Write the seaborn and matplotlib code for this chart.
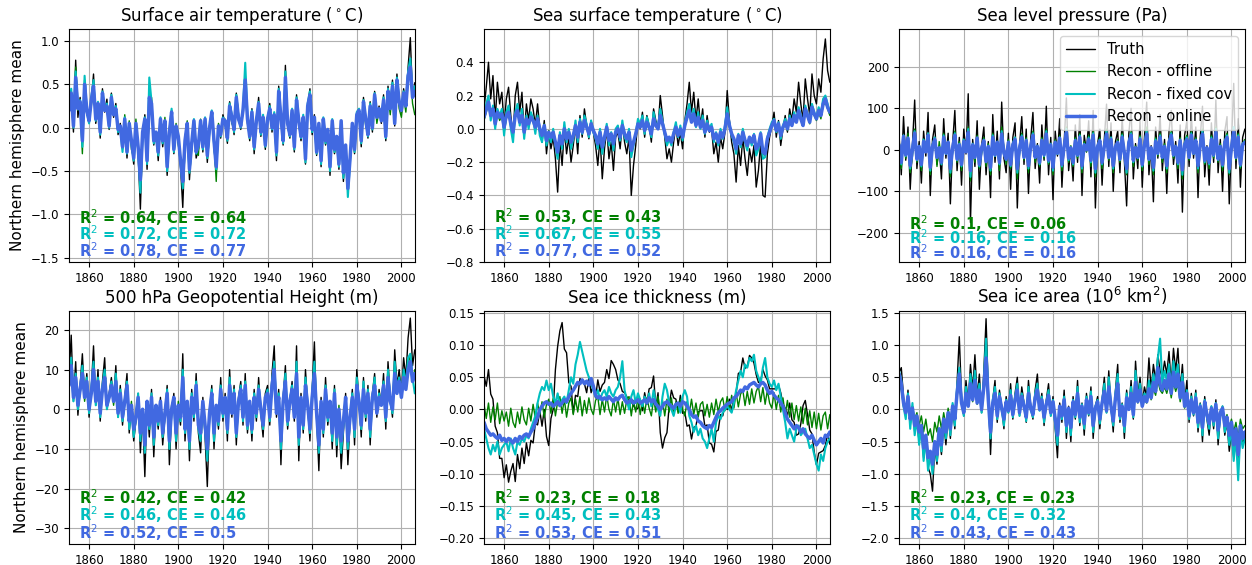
import matplotlib
matplotlib.use("Agg")
import matplotlib.pyplot as plt
import seaborn as sns

# Annual Northern-hemisphere means, 1851-2006
years = list(range(1851, 2007))

series_names = ["Truth", "Recon - offline", "Recon - fixed cov", "Recon - online"]
series_colors = ["black", "green", "c", "royalblue"]
series_widths = [1.0, 1.0, 1.5, 2.5]

# ---- Surface air temperature (deg C) ----
sat_truth = [
    0.15, 0.42, -0.05, 0.78, 0.12, 0.35, -0.18, 0.55, 0.22, 0.08,
    0.30, 0.62, 0.05, 0.25, -0.12, 0.45, 0.18, 0.33, -0.02, 0.40,
    0.12, 0.28, -0.08, 0.05, -0.25, 0.10, -0.35, 0.02, -0.15, -0.42,
    0.05, -0.30, -0.94, -0.12, 0.15, -0.48, 0.22, 0.35, -0.20, -0.05,
    -0.38, 0.10, -0.22, 0.05, -0.55, -0.10, 0.20, -0.30, -0.02, -0.15,
    -0.45, -0.92, -0.20, 0.02, -0.60, -0.18, 0.08, -0.35, -0.25, 0.05,
    -0.28, 0.10, -0.40, -0.05, 0.18, -0.22, -0.52, 0.00, -0.12, 0.15,
    0.05, -0.18, 0.30, 0.12, -0.08, 0.40, 0.15, -0.02, 0.25, 0.62,
    0.10, -0.15, 0.22, -0.30, 0.05, 0.35, -0.10, 0.12, -0.25, 0.08,
    0.28, -0.05, 0.15, -0.38, 0.48, 0.10, -0.20, 0.72, 0.02, -0.12,
    0.20, -0.28, 0.38, 0.05, -0.15, 0.12, -0.42, 0.25, 0.45, -0.08,
    0.15, -0.32, 0.02, -0.45, 0.10, -0.20, -0.05, -0.55, 0.08, -0.30,
    -0.15, -0.48, 0.05, -0.62, -0.25, -0.72, -0.40, 0.02, -0.30, 0.15,
    0.20, -0.22, 0.35, 0.08, -0.12, 0.30, -0.05, 0.42, 0.12, 0.25,
    0.05, 0.38, -0.15, 0.48, 0.22, 0.55, 0.02, 0.62, 0.30, 0.18,
    0.45, 0.25, 0.70, 1.04, 0.35, 0.52,
]
sat_offline = [
    0.22, 0.35, 0.05, 0.70, 0.20, 0.28, -0.30, 0.48, 0.15, 0.12,
    0.25, 0.50, 0.10, 0.18, -0.05, 0.38, 0.25, 0.20, 0.05, 0.30,
    0.18, 0.20, 0.02, -0.05, -0.18, 0.15, -0.22, 0.08, -0.25, -0.35,
    0.10, -0.22, -0.55, -0.05, 0.08, -0.35, 0.15, 0.28, -0.15, -0.12,
    -0.30, 0.05, -0.15, 0.12, -0.42, -0.02, 0.15, -0.22, 0.05, -0.20,
    -0.35, -0.55, -0.12, 0.08, -0.40, -0.25, 0.02, -0.28, -0.32, 0.10,
    -0.20, 0.05, -0.32, 0.02, 0.12, -0.15, -0.62, 0.05, -0.05, 0.08,
    0.10, -0.12, 0.22, 0.05, -0.02, 0.32, 0.08, 0.05, 0.18, 0.45,
    0.05, -0.10, 0.15, -0.22, 0.10, 0.28, -0.05, 0.05, -0.18, 0.12,
    0.20, 0.02, 0.10, -0.28, 0.38, 0.15, -0.12, 0.50, 0.08, -0.05,
    0.15, -0.20, 0.30, 0.10, -0.10, 0.05, -0.35, 0.18, 0.35, -0.02,
    0.10, -0.25, 0.05, -0.35, 0.05, -0.12, -0.10, -0.42, 0.02, -0.22,
    -0.10, -0.38, 0.08, -0.50, -0.20, -0.58, -0.32, 0.05, -0.22, 0.10,
    0.15, -0.15, 0.28, 0.02, -0.05, 0.22, 0.02, 0.32, 0.05, 0.20,
    0.10, 0.30, -0.08, 0.38, 0.15, 0.45, 0.08, 0.50, 0.22, 0.12,
    0.35, 0.18, 0.55, 0.65, 0.28, 0.15,
]
sat_fixed = [
    0.18, 0.45, 0.00, 0.65, 0.25, 0.32, -0.22, 0.60, 0.18, 0.05,
    0.35, 0.55, 0.08, 0.30, -0.08, 0.42, 0.22, 0.28, 0.00, 0.38,
    0.15, 0.25, -0.05, 0.00, -0.28, 0.12, -0.30, 0.05, -0.18, -0.38,
    0.02, -0.25, -0.75, -0.08, 0.12, -0.42, 0.58, 0.30, -0.18, -0.08,
    -0.32, 0.12, -0.18, 0.08, -0.50, -0.05, 0.22, -0.28, 0.00, -0.12,
    -0.40, -0.70, -0.18, 0.05, -0.52, -0.20, 0.10, -0.30, -0.22, 0.08,
    -0.25, 0.12, -0.35, -0.02, 0.20, -0.18, -0.48, 0.02, -0.10, 0.12,
    0.08, -0.15, 0.28, 0.15, -0.05, 0.38, 0.12, 0.00, 0.22, 0.75,
    0.12, -0.12, 0.20, -0.25, 0.08, 0.30, -0.08, 0.15, -0.22, 0.10,
    0.25, -0.02, 0.18, -0.32, 0.45, 0.12, -0.18, 0.65, 0.05, -0.10,
    0.22, -0.25, 0.35, 0.08, -0.12, 0.15, -0.40, 0.28, 0.42, -0.05,
    0.12, -0.30, 0.05, -0.42, 0.12, -0.18, -0.02, -0.50, 0.10, -0.28,
    -0.12, -0.45, 0.08, -0.58, -0.22, -0.80, -0.38, 0.05, -0.28, 0.18,
    0.22, -0.18, 0.32, 0.10, -0.10, 0.28, -0.02, 0.40, 0.15, 0.22,
    0.08, 0.35, -0.12, 0.45, 0.25, 0.52, 0.05, 0.58, 0.32, 0.20,
    0.42, 0.28, 0.65, 0.80, 0.38, 0.48,
]
sat_online = [
    0.20, 0.40, 0.02, 0.58, 0.22, 0.30, -0.15, 0.50, 0.20, 0.08,
    0.32, 0.48, 0.10, 0.28, -0.05, 0.40, 0.20, 0.25, 0.02, 0.35,
    0.15, 0.22, -0.02, 0.02, -0.22, 0.10, -0.28, 0.05, -0.15, -0.35,
    0.05, -0.22, -0.60, -0.05, 0.10, -0.38, 0.35, 0.28, -0.15, -0.05,
    -0.28, 0.10, -0.15, 0.08, -0.45, -0.05, 0.18, -0.25, 0.02, -0.10,
    -0.38, -0.62, -0.15, 0.05, -0.48, -0.18, 0.08, -0.28, -0.20, 0.08,
    -0.22, 0.10, -0.32, 0.00, 0.18, -0.15, -0.45, 0.02, -0.08, 0.10,
    0.08, -0.12, 0.25, 0.12, -0.02, 0.35, 0.10, 0.02, 0.20, 0.55,
    0.10, -0.10, 0.18, -0.22, 0.08, 0.28, -0.05, 0.12, -0.20, 0.10,
    0.22, 0.00, 0.15, -0.28, 0.42, 0.12, -0.15, 0.58, 0.05, -0.08,
    0.20, -0.22, 0.32, 0.08, -0.10, 0.12, -0.36, 0.25, 0.38, -0.02,
    0.12, -0.28, 0.05, -0.38, 0.10, -0.15, -0.02, -0.45, 0.08, -0.25,
    -0.10, -0.42, 0.08, -0.52, -0.20, -0.70, -0.35, 0.05, -0.25, 0.15,
    0.20, -0.15, 0.30, 0.10, -0.08, 0.25, 0.00, 0.38, 0.12, 0.22,
    0.08, 0.32, -0.10, 0.42, 0.22, 0.48, 0.05, 0.55, 0.30, 0.20,
    0.40, 0.25, 0.60, 0.70, 0.35, 0.42,
]

# ---- Sea surface temperature (deg C) ----
sst_truth = [
    0.12, 0.25, 0.40, 0.18, 0.32, 0.05, 0.28, 0.15, 0.22, 0.02,
    0.18, 0.25, 0.08, -0.05, 0.20, 0.28, 0.10, 0.22, -0.04, 0.15,
    0.05, 0.18, 0.12, 0.02, 0.15, 0.00, -0.08, 0.05, -0.15, -0.02,
    -0.12, -0.05, -0.18, -0.38, -0.08, -0.22, 0.00, -0.15, -0.05, -0.20,
    -0.10, 0.02, -0.15, 0.08, -0.05, 0.12, 0.02, -0.06, 0.05, -0.02,
    -0.10, -0.22, -0.05, -0.30, -0.12, 0.00, -0.18, -0.08, -0.25, -0.05,
    -0.02, -0.12, 0.03, -0.08, -0.15, -0.05, -0.40, -0.22, -0.10, 0.05,
    0.00, 0.10, -0.05, 0.08, 0.02, -0.08, 0.12, 0.05, 0.00, 0.20,
    0.08, -0.05, -0.18, -0.12, -0.20, -0.08, 0.02, -0.10, -0.02, -0.12,
    0.05, 0.15, 0.28, 0.10, 0.22, 0.05, 0.18, 0.02, 0.12, -0.05,
    0.08, -0.02, 0.00, -0.15, -0.08, -0.20, -0.05, -0.12, -0.02, 0.23,
    0.05, -0.08, -0.15, -0.32, -0.10, -0.22, -0.05, -0.18, -0.28, -0.12,
    -0.20, -0.10, -0.35, -0.25, -0.08, -0.40, -0.41, -0.15, -0.05, 0.02,
    0.10, -0.05, 0.05, -0.10, 0.00, 0.08, -0.02, 0.12, 0.05, 0.18,
    0.10, 0.28, 0.15, 0.05, 0.30, 0.18, 0.08, 0.33, 0.20, 0.15,
    0.30, 0.22, 0.42, 0.54, 0.35, 0.28,
]
sst_offline = [
    0.05, 0.10, 0.15, 0.08, 0.12, 0.02, 0.10, 0.05, 0.08, -0.02,
    0.06, 0.10, 0.02, -0.04, 0.08, 0.12, 0.04, 0.09, -0.03, 0.06,
    0.02, 0.08, 0.05, 0.00, 0.06, -0.02, -0.05, 0.03, -0.08, -0.01,
    -0.06, -0.02, -0.08, -0.15, -0.03, -0.10, 0.01, -0.06, -0.02, -0.09,
    -0.05, 0.02, -0.06, 0.04, -0.02, 0.06, 0.01, -0.03, 0.03, 0.00,
    -0.04, -0.09, -0.02, -0.12, -0.05, 0.01, -0.07, -0.03, -0.10, -0.02,
    0.00, -0.05, 0.02, -0.04, -0.06, -0.02, -0.14, -0.09, -0.04, 0.03,
    0.01, 0.05, -0.02, 0.04, 0.01, -0.03, 0.06, 0.02, 0.00, 0.08,
    0.03, -0.02, -0.07, -0.05, -0.08, -0.03, 0.01, -0.04, -0.01, -0.05,
    0.02, 0.06, 0.11, 0.04, 0.09, 0.02, 0.07, 0.01, 0.05, -0.02,
    0.03, -0.01, 0.01, -0.06, -0.03, -0.08, -0.02, -0.05, -0.01, 0.09,
    0.02, -0.03, -0.06, -0.12, -0.04, -0.09, -0.02, -0.07, -0.11, -0.05,
    -0.08, -0.04, -0.13, -0.10, -0.03, -0.15, -0.16, -0.06, -0.02, 0.01,
    0.04, -0.02, 0.02, -0.04, 0.00, 0.03, -0.01, 0.05, 0.02, 0.07,
    0.04, 0.10, 0.06, 0.02, 0.11, 0.07, 0.03, 0.12, 0.08, 0.05,
    0.10, 0.06, 0.14, 0.16, 0.12, 0.08,
]
sst_fixed = [
    0.08, 0.15, 0.20, 0.05, 0.14, 0.00, 0.12, 0.08, 0.12, -0.04,
    0.10, 0.14, 0.00, -0.08, 0.10, 0.15, 0.02, 0.12, -0.06, 0.08,
    0.00, 0.10, 0.06, -0.03, 0.08, -0.04, -0.08, 0.02, -0.10, -0.03,
    -0.08, 0.00, -0.10, -0.18, -0.02, -0.12, 0.04, -0.08, 0.00, -0.12,
    -0.06, 0.05, -0.08, 0.06, -0.03, 0.08, 0.03, -0.05, 0.05, -0.02,
    -0.06, -0.12, 0.00, -0.15, -0.06, 0.03, -0.10, -0.02, -0.13, 0.00,
    0.02, -0.07, 0.05, -0.05, -0.08, 0.00, -0.17, -0.10, -0.03, 0.06,
    0.03, 0.08, -0.03, 0.07, 0.02, -0.05, 0.10, 0.03, 0.01, 0.12,
    0.05, -0.03, -0.10, -0.06, -0.10, -0.02, 0.04, -0.05, 0.02, -0.07,
    0.04, 0.10, 0.15, 0.05, 0.12, 0.01, 0.10, 0.00, 0.08, -0.03,
    0.05, 0.00, 0.03, -0.08, -0.02, -0.10, 0.00, -0.06, 0.02, 0.13,
    0.03, -0.04, -0.08, -0.15, -0.03, -0.11, 0.00, -0.08, -0.13, -0.05,
    -0.10, -0.03, -0.16, -0.12, -0.02, -0.18, -0.17, -0.05, 0.00, 0.04,
    0.06, -0.02, 0.04, -0.06, 0.02, 0.06, 0.00, 0.08, 0.03, 0.10,
    0.05, 0.13, 0.08, 0.02, 0.14, 0.09, 0.04, 0.15, 0.10, 0.07,
    0.13, 0.09, 0.18, 0.20, 0.15, 0.10,
]
sst_online = [
    0.07, 0.12, 0.16, 0.08, 0.12, 0.03, 0.10, 0.07, 0.09, 0.01,
    0.08, 0.10, 0.03, -0.02, 0.08, 0.11, 0.04, 0.08, -0.02, 0.06,
    0.03, 0.07, 0.05, 0.01, 0.06, 0.00, -0.04, 0.02, -0.07, -0.02,
    -0.05, -0.02, -0.08, -0.14, -0.04, -0.09, 0.00, -0.06, -0.02, -0.08,
    -0.04, 0.02, -0.05, 0.04, -0.02, 0.05, 0.01, -0.03, 0.03, -0.01,
    -0.04, -0.09, -0.02, -0.11, -0.05, 0.01, -0.07, -0.03, -0.09, -0.02,
    0.00, -0.05, 0.02, -0.03, -0.06, -0.02, -0.13, -0.08, -0.03, 0.03,
    0.01, 0.05, -0.01, 0.04, 0.01, -0.03, 0.06, 0.02, 0.00, 0.08,
    0.03, -0.02, -0.07, -0.05, -0.08, -0.03, 0.01, -0.04, 0.00, -0.05,
    0.02, 0.07, 0.11, 0.04, 0.09, 0.02, 0.07, 0.01, 0.05, -0.02,
    0.03, -0.01, 0.01, -0.06, -0.03, -0.08, -0.02, -0.05, 0.00, 0.09,
    0.02, -0.03, -0.06, -0.12, -0.04, -0.09, -0.02, -0.07, -0.10, -0.05,
    -0.08, -0.04, -0.12, -0.10, -0.03, -0.14, -0.15, -0.06, -0.02, 0.02,
    0.05, -0.01, 0.03, -0.04, 0.01, 0.04, 0.00, 0.06, 0.02, 0.08,
    0.04, 0.11, 0.06, 0.02, 0.12, 0.08, 0.04, 0.13, 0.09, 0.06,
    0.11, 0.08, 0.15, 0.18, 0.13, 0.10,
]

# ---- Sea level pressure (Pa) ----
slp_truth = [
    35, -60, 80, -25, 55, -95, 10, 120, -45, 20,
    -80, 45, -15, 90, -110, 25, 60, -35, 5, -70,
    75, -20, 40, -130, 15, 95, -50, 30, -85, 50,
    -10, 135, -175, 25, -40, 70, -95, 10, 55, -60,
    20, -115, 85, -30, 45, -70, 115, -20, -55, 40,
    -95, 30, 65, -140, 10, 80, -35, 50, -105, 25,
    90, -45, 15, -80, 60, -25, 105, -60, 30, -120,
    45, -15, 75, -90, 20, 125, -50, 5, -75, 60,
    -30, 85, -110, 35, -5, 70, -65, 95, -140, 15,
    50, -85, 25, 110, -40, 65, -100, 20, 45, -55,
    80, -25, -135, 40, 100, -70, 15, -45, 70, -90,
    30, 115, -60, 10, -125, 55, -20, 85, -50, 25,
    -105, 45, 95, -35, 20, -80, 60, -150, 35, 70,
    -40, 90, -20, 55, -115, 30, 105, -65, 10, -85,
    65, -30, 120, -55, 25, -100, 45, 80, -130, 15,
    160, -45, 75, -90, 30, 50,
]
slp_offline = [
    10, -45, 30, -20, 40, -55, -15, 50, -30, 5,
    -50, 20, 10, 35, -60, 15, 30, -40, 20, -25,
    40, -10, 15, -65, -5, 45, -30, 20, -50, 25,
    5, 55, -75, 10, -30, 35, -45, -10, 30, -40,
    15, -60, 40, -15, 20, -50, 55, 5, -35, 25,
    -45, 20, 30, -70, -10, 40, -25, 30, -55, 10,
    45, -30, 10, -40, 30, -20, 50, -35, 15, -60,
    25, -10, 35, -50, 5, 55, -30, 10, -40, 30,
    -20, 40, -55, 20, -5, 35, -40, 45, -65, 10,
    30, -45, 15, 50, -25, 30, -55, 5, 25, -30,
    40, -15, -60, 20, 45, -40, 10, -25, 35, -50,
    15, 55, -35, 5, -60, 30, -15, 40, -30, 15,
    -55, 25, 45, -20, 10, -45, 30, -70, 20, 35,
    -25, 45, -10, 30, -55, 15, 50, -35, 5, -45,
    35, -20, 55, -30, 15, -50, 25, 40, -60, 10,
    50, -25, 40, -45, 15, 25,
]
slp_fixed = [
    15, -35, 35, -15, 30, -45, 5, 45, -25, 10,
    -40, 25, -5, 40, -50, 10, 30, -20, 5, -35,
    35, -10, 20, -55, 5, 40, -25, 15, -40, 25,
    -5, 50, -65, 15, -20, 30, -40, 5, 25, -30,
    10, -50, 35, -15, 20, -35, 45, -10, -25, 20,
    -40, 15, 30, -55, 5, 35, -20, 25, -45, 10,
    40, -20, 10, -35, 25, -15, 45, -30, 15, -50,
    20, -10, 30, -40, 10, 50, -25, 5, -35, 25,
    -15, 35, -45, 15, 0, 30, -30, 40, -55, 10,
    25, -35, 10, 45, -20, 30, -45, 10, 20, -25,
    35, -10, -55, 20, 40, -30, 5, -20, 30, -40,
    15, 45, -25, 5, -50, 25, -10, 35, -20, 10,
    -45, 20, 40, -15, 10, -35, 25, -60, 15, 30,
    -20, 40, -10, 25, -45, 15, 45, -30, 5, -35,
    30, -15, 50, -25, 10, -40, 20, 35, -55, 5,
    55, -20, 35, -40, 15, 20,
]
slp_online = [
    12, -30, 32, -12, 28, -38, 2, 40, -22, 8,
    -35, 20, -5, 35, -42, 8, 25, -18, 5, -30,
    30, -8, 18, -45, 5, 35, -22, 12, -35, 20,
    -5, 42, -50, 12, -18, 28, -35, 5, 22, -28,
    8, -42, 30, -12, 18, -30, 38, -8, -22, 18,
    -35, 12, 25, -45, 5, 30, -18, 22, -38, 8,
    35, -18, 8, -30, 22, -12, 38, -25, 12, -42,
    18, -8, 28, -35, 8, 42, -20, 5, -30, 22,
    -12, 30, -38, 12, 0, 25, -25, 35, -45, 8,
    22, -30, 8, 38, -18, 25, -38, 8, 18, -22,
    30, -8, -45, 18, 35, -25, 5, -18, 25, -35,
    12, 38, -22, 5, -42, 20, -8, 30, -18, 8,
    -38, 18, 35, -12, 8, -30, 22, -48, 12, 25,
    -18, 35, -8, 22, -38, 12, 38, -25, 5, -30,
    25, -12, 42, -22, 8, -35, 18, 30, -45, 5,
    45, -18, 30, -35, 12, 18,
]

# ---- 500 hPa geopotential height (m) ----
gph_truth = [
    8, 18.7, 2, 12, -1.5, 6, 14, 3, 9, -2,
    5, 16, 1, 10, -3, 7, 13, 0, 4, 8,
    2, 11, -2, 6, -4, 3, 9, -6, 1, -8,
    -3, 4, -11, -1, -17, 2, -7, 5, -12, 0,
    -5, 3, -9, -2, 6, -14, -1, 4, -10, 1,
    -4, 14, -8, 2, -13, 5, -3, 9, -6, -11,
    3, -7, -19.5, -2, 6, -10, 1, -5, 8, -3,
    4, -8, 10, -2, 6, -9, 3, 7, -4, 9,
    -6, 2, -8, 5, -3, 8, -1, -7, 4, 6,
    -4, 9, 16, -2, 5, -14, 3, 11, -5, 2,
    7, -3, 16, -13, 4, -6, 10, 1, -8, 5,
    17, -2, -15.5, 3, -7, 8, -4, 2, -10, 6,
    -12, 0, -15, -6, 4, -14, -3, 5, -9, 10,
    2, -7, 8, -3, 6, -9, 4, 9, -2, 5,
    1, 9, -5, 12, 3, -2, 15, 6, 10, 4,
    13, 8, 18, 23, 11, 15,
]
gph_offline = [
    6, 10, 3, 8, 1, 4, 9, 2, 7, 0,
    4, 9, 2, 7, -1, 5, 8, 1, 3, 6,
    1, 7, -1, 4, -2, 2, 6, -3, 2, -5,
    -1, 3, -6, 0, -9, 2, -4, 3, -7, 1,
    -3, 2, -5, 0, 4, -8, 1, 3, -6, 2,
    -2, 8, -5, 2, -8, 3, -1, 6, -4, -6,
    2, -4, -10, 0, 4, -6, 1, -3, 5, -1,
    3, -5, 6, -1, 4, -5, 2, 5, -2, 6,
    -4, 2, -5, 3, -1, 5, 0, -4, 3, 4,
    -2, 6, 9, 0, 3, -8, 2, 7, -3, 1,
    5, -2, 9, -7, 3, -4, 6, 1, -5, 3,
    9, -1, -9, 2, -4, 5, -2, 1, -6, 4,
    -7, 1, -9, -3, 3, -8, -2, 3, -5, 6,
    2, -4, 5, -1, 4, -5, 3, 6, -1, 3,
    1, 6, -2, 8, 2, 0, 9, 4, 7, 3,
    8, 5, 11, 14, 7, 10,
]
gph_fixed = [
    7, 13, 2, 9, 0, 5, 11, 3, 8, -1,
    5, 12, 1, 8, -2, 6, 10, 0, 3, 7,
    2, 9, -2, 5, -3, 2, 7, -5, 1, -7,
    -2, 4, -8, 0, -11, 2, -5, 4, -9, 1,
    -4, 2, -7, -1, 5, -10, 0, 3, -8, 1,
    -3, 10, -6, 2, -10, 4, -2, 7, -5, -8,
    2, -5, -13, -1, 5, -8, 1, -4, 6, -2,
    3, -6, 8, -1, 5, -7, 2, 6, -3, 7,
    -5, 2, -6, 4, -2, 6, 0, -5, 3, 5,
    -3, 7, 12, -1, 4, -10, 2, 9, -4, 2,
    6, -2, 12, -9, 3, -5, 8, 1, -6, 4,
    12, -1, -11, 2, -6, 6, -3, 2, -8, 5,
    -9, 0, -11, -4, 3, -10, -2, 4, -7, 8,
    2, -5, 7, -2, 5, -7, 3, 8, -1, 4,
    1, 7, -3, 10, 2, -1, 12, 5, 8, 3,
    10, 6, 13, 14, 8, 4,
]
gph_online = [
    6, 11, 3, 8, 1, 5, 9, 3, 7, 0,
    4, 10, 2, 7, -1, 5, 8, 1, 3, 6,
    2, 7, -1, 4, -2, 2, 6, -3, 1, -5,
    -2, 3, -6, 0, -9, 2, -4, 3, -7, 1,
    -3, 2, -6, -1, 4, -8, 0, 3, -6, 1,
    -2, 8, -5, 2, -8, 3, -1, 6, -4, -6,
    2, -4, -10, -1, 4, -6, 1, -3, 5, -1,
    3, -5, 6, -1, 4, -6, 2, 5, -2, 6,
    -4, 2, -5, 3, -1, 5, 0, -4, 3, 4,
    -2, 6, 10, -1, 3, -8, 2, 7, -3, 2,
    5, -2, 9, -7, 3, -4, 6, 1, -5, 3,
    9, -1, -9, 2, -5, 5, -2, 2, -6, 4,
    -7, 0, -8, -3, 3, -8, -2, 3, -5, 6,
    2, -4, 5, -1, 4, -5, 3, 6, -1, 3,
    1, 6, -2, 8, 2, 0, 9, 4, 7, 3,
    8, 5, 10, 12, 7, 9,
]

# ---- Sea ice thickness (m) ----
sit_truth = [
    0.053, 0.036, 0.062, 0.024, 0.016, -0.026, -0.036, -0.076, -0.076, -0.106,
    -0.086, -0.113, -0.096, -0.084, -0.112, -0.070, -0.092, -0.060, -0.084, -0.052,
    -0.072, -0.048, -0.052, -0.022, -0.024, -0.002, -0.026, 0.000, -0.042, -0.056,
    -0.014, 0.000, 0.062, 0.098, 0.122, 0.135, 0.094, 0.088, 0.042, 0.036,
    -0.006, 0.022, 0.020, 0.048, 0.044, 0.040, 0.026, 0.050, 0.026, 0.038,
    0.018, 0.046, 0.028, 0.038, 0.042, 0.062, 0.048, 0.076, 0.070, 0.062,
    0.046, 0.040, 0.028, 0.026, 0.020, 0.012, 0.012, 0.006, 0.000, 0.002,
    0.016, -0.002, 0.026, 0.008, 0.032, 0.034, 0.052, 0.004, 0.026, -0.036,
    -0.060, -0.044, -0.036, 0.006, 0.030, 0.018, 0.016, -0.002, 0.022, -0.006,
    -0.004, -0.026, -0.024, -0.046, -0.028, -0.026, -0.004, -0.002, -0.002, -0.026,
    -0.024, -0.052, -0.054, -0.066, -0.034, -0.032, -0.008, -0.010, 0.006, 0.000,
    0.016, -0.002, 0.016, 0.024, 0.056, 0.058, 0.080, 0.064, 0.066, 0.084,
    0.080, 0.072, 0.054, 0.042, 0.044, 0.062, 0.052, 0.046, 0.032, 0.032,
    0.032, 0.032, 0.038, 0.026, 0.008, 0.002, -0.010, 0.010, -0.016, -0.020,
    -0.040, -0.038, -0.022, 0.006, 0.014, -0.008, -0.032, -0.038, -0.066, -0.086,
    -0.068, -0.066, -0.064, -0.056, -0.038, -0.054,
]
sit_offline = [
    0.008, -0.014, 0.010, -0.020, 0.004, -0.016, 0.010, -0.022, -0.002, -0.018,
    -0.004, -0.026, 0.002, -0.020, -0.028, -0.004, -0.022, 0.004, -0.016, -0.024,
    0.002, -0.018, 0.008, -0.014, 0.010, -0.008, 0.012, -0.012, 0.008, 0.016,
    -0.006, 0.018, -0.010, 0.012, 0.020, -0.006, 0.016, -0.012, 0.010, 0.018,
    -0.008, 0.016, -0.004, 0.020, -0.010, 0.014, -0.006, 0.018, 0.000, -0.008,
    0.014, 0.020, -0.008, 0.016, -0.004, 0.022, 0.000, -0.010, 0.016, -0.004,
    0.018, -0.008, 0.012, -0.006, 0.016, 0.020, -0.010, 0.014, -0.004, 0.018,
    -0.008, 0.014, -0.006, 0.018, 0.002, -0.010, 0.016, -0.004, 0.020, -0.006,
    0.014, -0.010, 0.016, -0.004, 0.018, -0.008, 0.012, -0.006, 0.016, 0.000,
    -0.010, 0.012, -0.006, 0.016, -0.008, 0.010, -0.012, 0.008, 0.012, -0.010,
    0.008, -0.012, 0.010, -0.008, 0.016, -0.004, 0.012, 0.018, -0.002, 0.020,
    0.000, 0.022, 0.002, 0.026, 0.004, 0.024, 0.030, 0.006, 0.028, 0.008,
    0.032, 0.010, 0.028, 0.036, 0.012, 0.034, 0.008, 0.030, 0.010, 0.002,
    0.026, 0.000, 0.022, -0.004, 0.018, -0.008, 0.014, -0.012, 0.010, -0.016,
    0.006, -0.018, 0.004, -0.022, 0.002, -0.024, -0.002, -0.028, -0.004, -0.030,
    -0.006, -0.032, -0.010, -0.004, -0.030, -0.008,
]
sit_fixed = [
    -0.030, -0.045, -0.060, -0.070, -0.055, -0.065, -0.050, -0.070, -0.060, -0.055,
    -0.050, -0.065, -0.045, -0.060, -0.070, -0.050, -0.055, -0.045, -0.050, -0.040,
    -0.045, -0.030, -0.020, -0.010, 0.010, 0.025, 0.035, 0.030, 0.045, 0.030,
    0.040, 0.020, 0.010, 0.025, 0.005, 0.015, 0.020, 0.010, 0.030, 0.050,
    0.040, 0.070, 0.085, 0.105, 0.090, 0.075, 0.060, 0.050, 0.040, 0.030,
    0.020, 0.030, 0.015, 0.025, 0.030, 0.020, 0.035, 0.025, 0.020, 0.030,
    0.035, 0.050, 0.075, 0.030, 0.015, 0.000, 0.020, 0.030, 0.010, 0.025,
    0.015, 0.005, 0.020, 0.010, 0.025, 0.005, 0.030, 0.010, 0.000, -0.010,
    0.020, 0.040, 0.030, 0.010, 0.000, -0.010, 0.005, 0.010, -0.005, 0.020,
    0.030, 0.020, -0.010, -0.020, -0.035, -0.025, -0.040, -0.030, -0.045, -0.050,
    -0.060, -0.045, -0.030, -0.050, -0.020, -0.010, -0.015, -0.005, 0.000, 0.005,
    0.000, -0.005, 0.010, 0.030, 0.045, 0.060, 0.050, 0.070, 0.065, 0.080,
    0.075, 0.085, 0.060, 0.050, 0.040, 0.065, 0.080, 0.050, 0.040, 0.035,
    0.045, 0.030, 0.040, 0.020, 0.000, -0.020, -0.045, -0.030, -0.040, -0.050,
    -0.030, -0.025, -0.040, -0.035, -0.030, -0.045, -0.060, -0.055, -0.070, -0.085,
    -0.095, -0.070, -0.080, -0.060, -0.050, -0.045,
]
sit_online = [
    -0.020, -0.030, -0.035, -0.040, -0.038, -0.042, -0.045, -0.040, -0.048, -0.045,
    -0.050, -0.045, -0.048, -0.052, -0.045, -0.050, -0.042, -0.045, -0.040, -0.038,
    -0.042, -0.035, -0.030, -0.020, -0.012, 0.000, 0.005, 0.010, 0.012, 0.008,
    0.010, 0.005, 0.008, 0.012, 0.006, 0.010, 0.015, 0.012, 0.020, 0.025,
    0.030, 0.036, 0.042, 0.040, 0.046, 0.040, 0.044, 0.038, 0.048, 0.036,
    0.022, 0.018, 0.020, 0.015, 0.018, 0.015, 0.020, 0.016, 0.012, 0.018,
    0.015, 0.020, 0.022, 0.015, 0.010, 0.012, 0.015, 0.010, 0.012, 0.015,
    0.010, 0.012, 0.015, 0.010, 0.018, 0.012, 0.015, 0.008, 0.005, 0.000,
    0.005, 0.010, 0.012, 0.008, 0.005, 0.002, 0.008, 0.010, 0.005, 0.012,
    0.010, 0.005, 0.000, -0.008, -0.012, -0.010, -0.018, -0.020, -0.025, -0.028,
    -0.030, -0.025, -0.028, -0.020, -0.012, -0.005, -0.002, 0.002, 0.005, 0.008,
    0.010, 0.012, 0.018, 0.020, 0.025, 0.030, 0.028, 0.035, 0.032, 0.038,
    0.040, 0.042, 0.038, 0.035, 0.040, 0.042, 0.038, 0.030, 0.025, 0.028,
    0.022, 0.018, 0.015, 0.010, 0.005, -0.005, -0.015, -0.020, -0.025, -0.030,
    -0.025, -0.028, -0.035, -0.030, -0.038, -0.042, -0.045, -0.040, -0.048, -0.055,
    -0.050, -0.045, -0.052, -0.040, -0.042, -0.035,
]

# ---- Sea ice area (10^6 km^2) ----
sia_truth = [
    0.57, 0.65, 0.20, -0.10, 0.30, -0.25, 0.05, -0.35, -0.20, -0.50,
    -0.30, -0.75, -0.45, -0.90, -1.00, -1.27, -0.60, -0.85, -0.40, -0.70,
    -0.20, -0.55, -0.10, -0.45, 0.05, -0.30, 0.40, 1.13, 0.20, -0.10,
    0.45, 0.10, 0.70, 0.30, 0.85, 0.20, 0.55, -0.05, 0.60, 1.41,
    0.30, -0.70, 0.15, 0.45, -0.20, 0.30, 0.05, -0.30, 0.20, -0.05,
    0.40, -0.15, 0.25, 0.50, -0.10, 0.35, 0.10, -0.20, 0.45, 0.05,
    -0.15, 0.30, 0.55, 0.00, 0.25, -0.25, 0.15, 0.40, -0.10, 0.20,
    -0.30, -0.75, 0.10, -0.20, 0.30, -0.45, 0.05, -0.50, 0.20, -0.15,
    0.45, -0.25, 0.10, -0.40, 0.25, -0.10, 0.35, -0.45, 0.05, 0.20,
    -0.30, 0.15, 0.50, -0.05, 0.60, 0.05, -0.35, 0.30, 0.70, -0.20,
    0.10, -0.45, 0.30, 0.00, 0.45, -0.15, 0.75, 0.20, 0.50, 0.10,
    0.35, 0.20, 0.80, 0.30, 0.70, 0.45, 0.85, 0.60, 0.50, 0.75,
    0.55, 0.90, 0.40, 0.95, 0.60, 0.95, 0.30, 0.70, 0.10, 0.45,
    -0.20, 0.25, -0.10, 0.30, -0.35, 0.10, -0.50, 0.20, -0.15, -0.40,
    0.05, -0.30, 0.15, -0.55, -0.10, 0.05, -0.40, -0.20, -0.65, -0.35,
    -0.75, -0.45, -0.90, -0.30, -0.55, -0.40,
]
sia_offline = [
    0.40, 0.30, 0.05, -0.05, 0.15, -0.10, 0.05, -0.15, -0.05, -0.25,
    -0.10, -0.35, -0.15, -0.40, -0.30, -0.50, -0.20, -0.35, -0.10, -0.30,
    -0.05, -0.25, 0.02, -0.20, 0.08, -0.10, 0.20, 0.45, 0.10, 0.00,
    0.20, 0.05, 0.30, 0.12, 0.35, 0.08, 0.22, 0.02, 0.28, 0.55,
    0.10, -0.25, 0.08, 0.20, -0.05, 0.15, 0.02, -0.10, 0.10, 0.00,
    0.18, -0.05, 0.12, 0.22, -0.02, 0.15, 0.05, -0.08, 0.20, 0.02,
    -0.05, 0.15, 0.25, 0.02, 0.12, -0.10, 0.08, 0.18, -0.02, 0.10,
    -0.10, -0.30, 0.05, -0.08, 0.12, -0.18, 0.02, -0.20, 0.10, -0.05,
    0.20, -0.10, 0.05, -0.15, 0.12, -0.02, 0.15, -0.18, 0.02, 0.10,
    -0.12, 0.08, 0.22, 0.00, 0.28, 0.05, -0.12, 0.15, 0.30, -0.08,
    0.05, -0.18, 0.15, 0.02, 0.20, -0.05, 0.35, 0.10, 0.25, 0.05,
    0.15, 0.10, 0.28, 0.15, 0.32, 0.22, 0.45, 0.30, 0.25, 0.35,
    0.25, 0.40, 0.18, 0.42, 0.28, 0.40, 0.12, 0.30, 0.02, 0.18,
    -0.05, 0.12, -0.02, 0.15, -0.12, 0.05, -0.18, 0.10, -0.05, -0.15,
    0.02, -0.12, 0.05, -0.22, -0.02, 0.02, -0.18, -0.08, -0.28, -0.15,
    -0.35, -0.20, -0.45, -0.15, -0.30, -0.25,
]
sia_fixed = [
    0.60, 0.45, 0.05, -0.15, 0.25, -0.30, 0.10, -0.40, -0.15, -0.55,
    -0.25, -0.80, -0.45, -0.95, -0.70, -1.00, -0.55, -0.80, -0.35, -0.65,
    -0.20, -0.45, -0.05, -0.40, 0.10, -0.25, 0.35, 0.65, 0.15, -0.10,
    0.35, 0.05, 0.55, 0.20, 0.60, 0.15, 0.40, -0.05, 0.45, 1.10,
    0.20, -0.45, 0.15, 0.35, -0.15, 0.25, 0.00, -0.25, 0.15, -0.05,
    0.30, -0.12, 0.20, 0.40, -0.10, 0.25, 0.08, -0.18, 0.35, 0.00,
    -0.12, 0.25, 0.40, -0.02, 0.20, -0.20, 0.10, 0.30, -0.10, 0.15,
    -0.25, -0.55, 0.05, -0.15, 0.20, -0.35, 0.00, -0.40, 0.15, -0.12,
    0.35, -0.20, 0.08, -0.30, 0.20, -0.08, 0.28, -0.35, 0.05, 0.15,
    -0.22, 0.12, 0.40, -0.05, 0.50, 0.05, -0.25, 0.25, 0.55, -0.15,
    0.08, -0.35, 0.25, 0.00, 0.35, -0.12, 0.60, 0.15, 0.40, 0.08,
    0.25, 0.15, 0.45, 0.25, 0.55, 0.35, 0.80, 1.10, 0.40, 0.60,
    0.45, 0.70, 0.30, 0.75, 0.45, 0.70, 0.20, 0.55, 0.05, 0.30,
    -0.15, 0.20, -0.08, 0.25, -0.28, 0.08, -0.40, 0.15, -0.12, -0.30,
    0.05, -0.25, 0.10, -0.45, -0.08, 0.05, -0.35, -0.15, -0.55, -0.30,
    -0.80, -0.40, -1.10, -0.35, -0.60, -0.45,
]
sia_online = [
    0.55, 0.40, 0.10, -0.05, 0.20, -0.15, 0.02, -0.25, -0.10, -0.35,
    -0.25, -0.60, -0.40, -0.75, -0.65, -0.85, -0.50, -0.70, -0.30, -0.55,
    -0.15, -0.35, -0.05, -0.30, 0.05, -0.15, 0.25, 0.55, 0.10, -0.05,
    0.25, 0.05, 0.40, 0.15, 0.45, 0.10, 0.30, 0.00, 0.35, 0.80,
    0.15, -0.35, 0.10, 0.25, -0.10, 0.20, 0.02, -0.15, 0.12, -0.02,
    0.22, -0.08, 0.15, 0.30, -0.05, 0.20, 0.05, -0.12, 0.25, 0.02,
    -0.08, 0.18, 0.30, 0.00, 0.15, -0.12, 0.08, 0.22, -0.05, 0.12,
    -0.15, -0.40, 0.05, -0.10, 0.15, -0.25, 0.02, -0.28, 0.12, -0.08,
    0.25, -0.12, 0.05, -0.22, 0.15, -0.05, 0.20, -0.25, 0.02, 0.12,
    -0.15, 0.10, 0.28, -0.02, 0.35, 0.05, -0.18, 0.18, 0.40, -0.10,
    0.05, -0.25, 0.18, 0.00, 0.25, -0.08, 0.42, 0.12, 0.30, 0.05,
    0.20, 0.12, 0.32, 0.18, 0.42, 0.28, 0.65, 0.38, 0.30, 0.45,
    0.32, 0.55, 0.25, 0.58, 0.35, 0.55, 0.18, 0.42, 0.05, 0.25,
    -0.10, 0.15, -0.05, 0.18, -0.20, 0.05, -0.28, 0.12, -0.08, -0.22,
    0.02, -0.18, 0.08, -0.32, -0.05, 0.02, -0.25, -0.12, -0.40, -0.20,
    -0.55, -0.30, -0.70, -0.25, -0.45, -0.35,
]

# Verification scores per variable: (R^2, CE) for offline, fixed cov, online
stats_sat = [(0.64, 0.64), (0.72, 0.72), (0.78, 0.77)]
stats_sst = [(0.53, 0.43), (0.67, 0.55), (0.77, 0.52)]
stats_slp = [(0.1, 0.06), (0.16, 0.16), (0.16, 0.16)]
stats_gph = [(0.42, 0.42), (0.46, 0.46), (0.52, 0.5)]
stats_sit = [(0.23, 0.18), (0.45, 0.43), (0.53, 0.51)]
stats_sia = [(0.23, 0.23), (0.4, 0.32), (0.43, 0.43)]

titles = [
    "Surface air temperature ($^\\circ$C)",
    "Sea surface temperature ($^\\circ$C)",
    "Sea level pressure (Pa)",
    "500 hPa Geopotential Height (m)",
    "Sea ice thickness (m)",
    "Sea ice area (10$^6$ km$^2$)",
]
x_ticks = [1860, 1880, 1900, 1920, 1940, 1960, 1980, 2000]

sns.set_style("ticks", {"axes.grid": True, "grid.color": "#b0b0b0",
                        "axes.edgecolor": "black", "text.color": "black",
                        "axes.labelcolor": "black", "xtick.color": "black",
                        "ytick.color": "black"})
plt.rcParams["font.family"] = ["DejaVu Sans"]
plt.rcParams["grid.linewidth"] = 0.8

panels = [
    dict(data=(sat_truth, sat_offline, sat_fixed, sat_online), stats=stats_sat,
         ylim=(-1.55, 1.14), yticks=[-1.5, -1.0, -0.5, 0.0, 0.5, 1.0],
         stat_y=(0.189, 0.120, 0.047)),
    dict(data=(sst_truth, sst_offline, sst_fixed, sst_online), stats=stats_sst,
         ylim=(-0.80, 0.60), yticks=[-0.8, -0.6, -0.4, -0.2, 0.0, 0.2, 0.4],
         stat_y=(0.193, 0.120, 0.047)),
    dict(data=(slp_truth, slp_offline, slp_fixed, slp_online), stats=stats_slp,
         ylim=(-270, 291), yticks=[-200, -100, 0, 100, 200],
         stat_y=(0.163, 0.103, 0.039)),
    dict(data=(gph_truth, gph_offline, gph_fixed, gph_online), stats=stats_gph,
         ylim=(-34, 24.8), yticks=[-30, -20, -10, 0, 10, 20],
         stat_y=(0.197, 0.124, 0.047)),
    dict(data=(sit_truth, sit_offline, sit_fixed, sit_online), stats=stats_sit,
         ylim=(-0.209, 0.153),
         yticks=[-0.20, -0.15, -0.10, -0.05, 0.00, 0.05, 0.10, 0.15],
         stat_y=(0.197, 0.124, 0.047)),
    dict(data=(sia_truth, sia_offline, sia_fixed, sia_online), stats=stats_sia,
         ylim=(-2.09, 1.53), yticks=[-2.0, -1.5, -1.0, -0.5, 0.0, 0.5, 1.0, 1.5],
         stat_y=(0.197, 0.124, 0.047)),
]

fig = plt.figure(figsize=(12.52, 5.65), dpi=100)
lefts = [0.0551, 0.3866, 0.7181]
bottoms = [0.5363, 0.0372]
width, height = 0.2762, 0.4124

for i, p in enumerate(panels):
    row, col = divmod(i, 3)
    ax = fig.add_axes([lefts[col], bottoms[row], width, height])
    for vals, name, color, lw in zip(p["data"], series_names, series_colors, series_widths):
        sns.lineplot(x=years, y=vals, ax=ax, color=color, linewidth=lw,
                     label=name, legend=False, errorbar=None)
    ax.set_xlim(years[0], years[-1])
    ax.set_ylim(*p["ylim"])
    ax.set_xticks(x_ticks)
    ax.set_yticks(p["yticks"])
    ax.tick_params(labelsize=8.5, length=3.5, width=0.8)
    ax.set_title(titles[i], fontsize=12)
    ax.set_xlabel("")
    ax.set_ylabel("Northern hemisphere mean" if col == 0 else "", fontsize=11)
    ax.grid(True, color="#b0b0b0", linewidth=0.8)
    ax.set_axisbelow(True)
    for sp in ax.spines.values():
        sp.set_visible(True)
        sp.set_color("black")
        sp.set_linewidth(0.8)
    for (r2, ce), color, yy in zip(p["stats"], series_colors[1:], p["stat_y"]):
        ax.text(0.03, yy, f"R$^2$ = {r2}, CE = {ce}", transform=ax.transAxes,
                color=color, fontsize=10.5, fontweight="bold", va="center", ha="left")
    if i == 2:
        ax.legend(loc="upper right", fontsize=10.5)

fig.savefig("out.png", dpi=100)
